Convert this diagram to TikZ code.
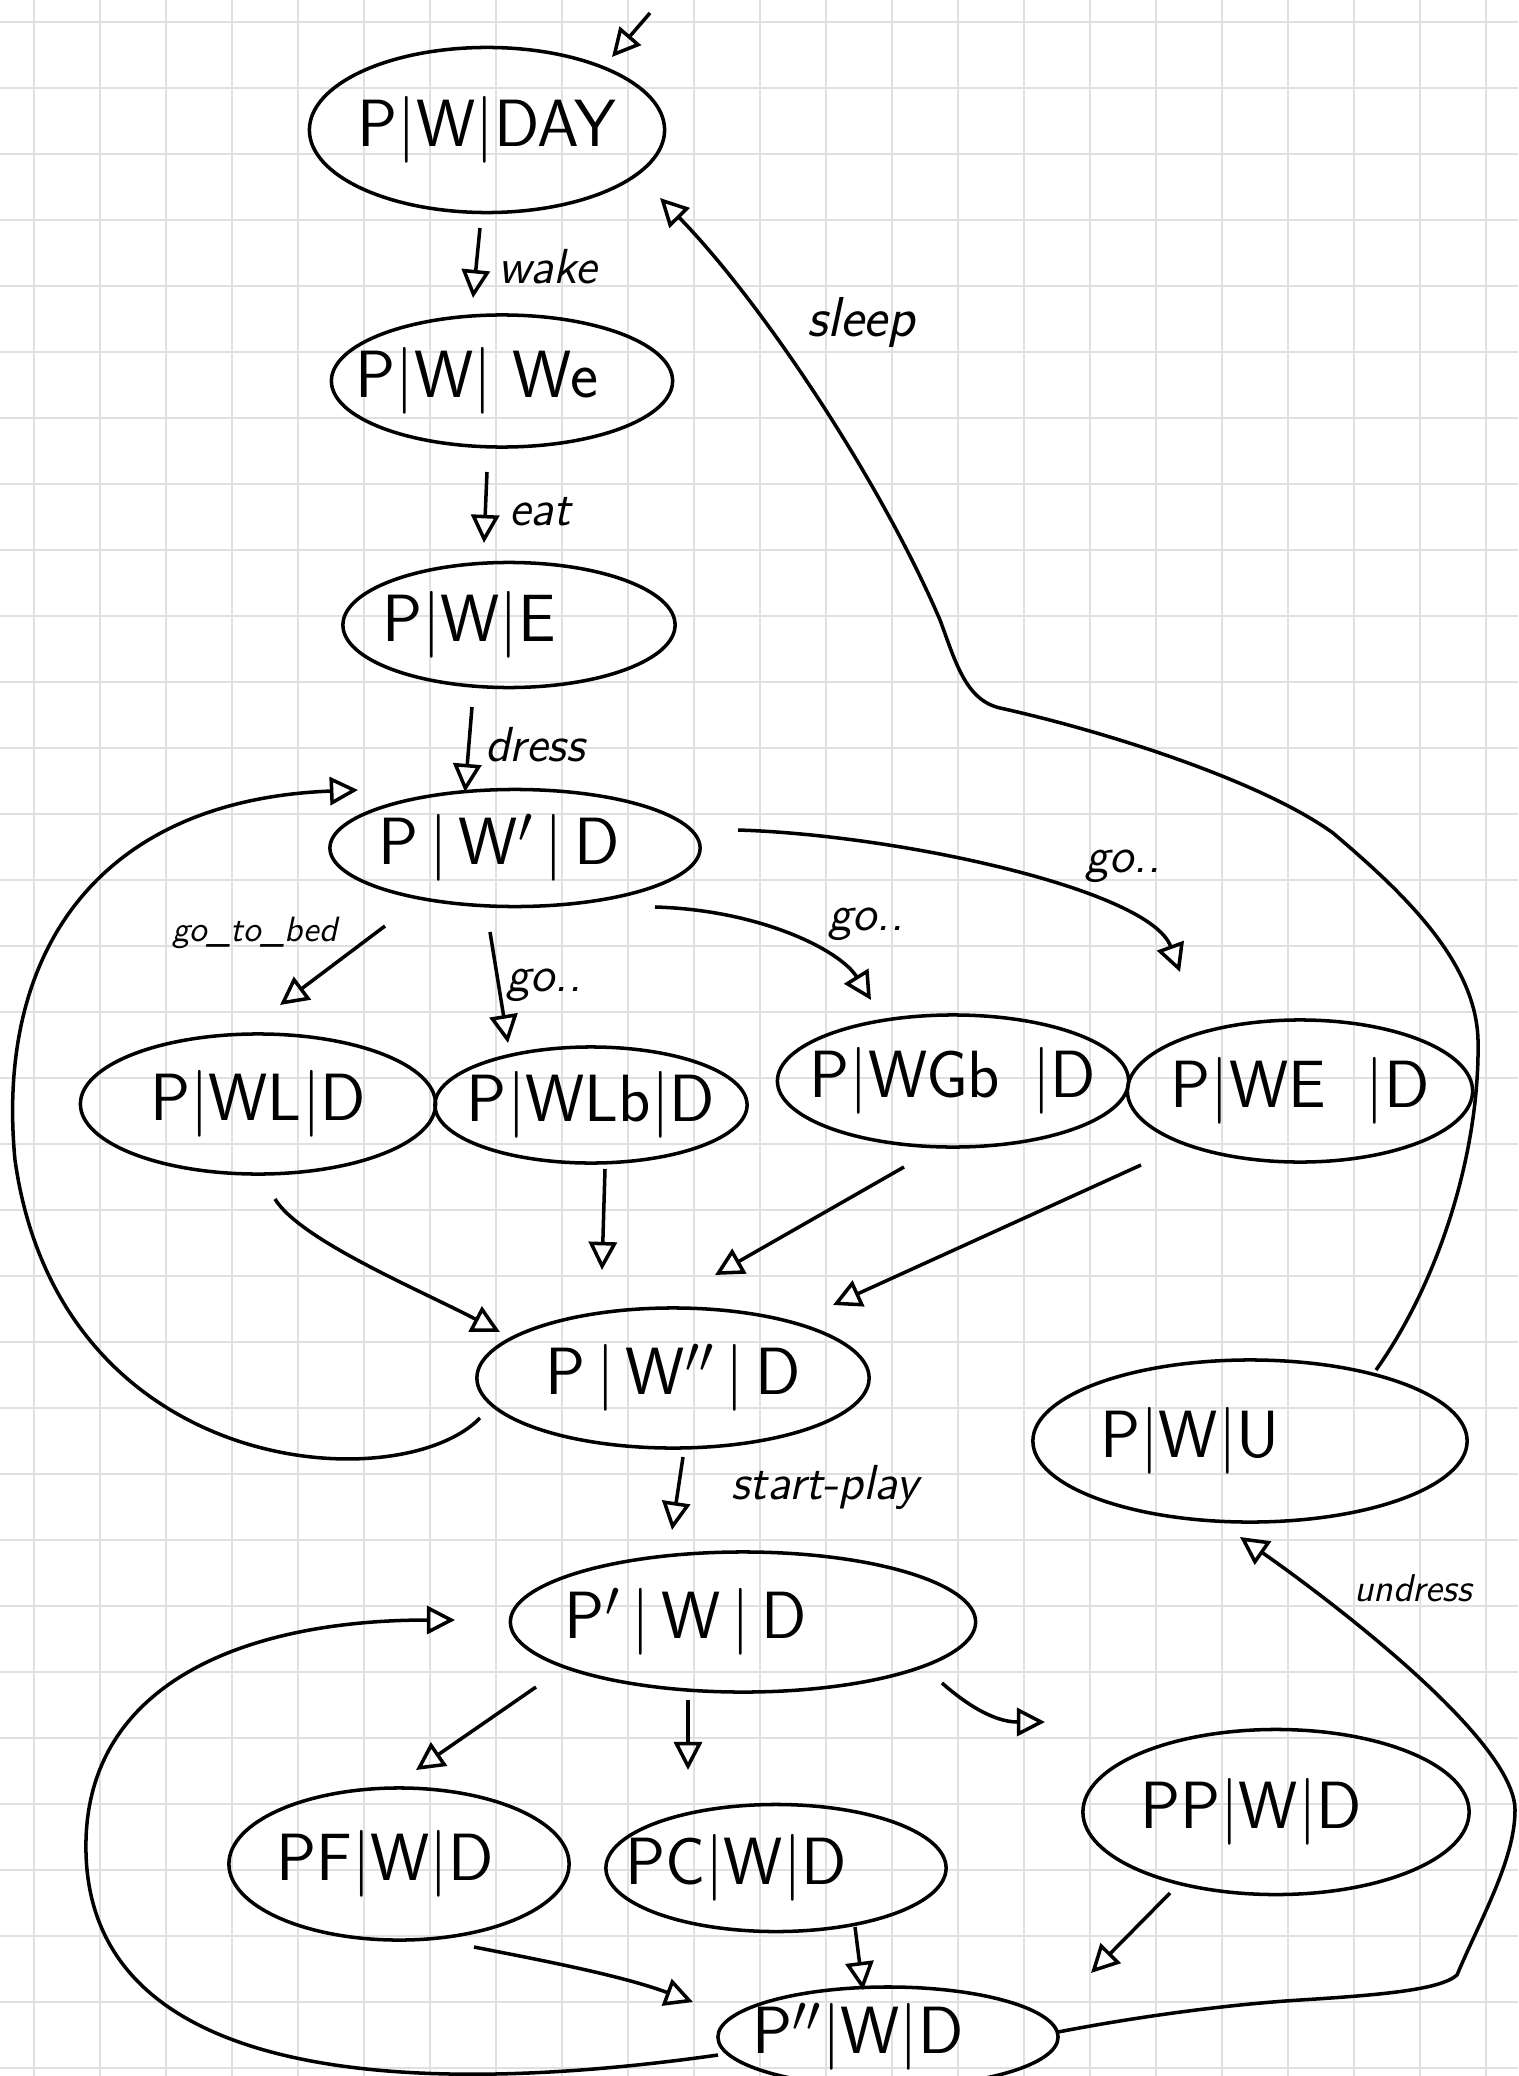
\documentclass[tikz,border=0pt]{standalone}
\usepackage{fontspec}
\usetikzlibrary{shapes.geometric, arrows.meta}
\newcommand{\sttext}[2][0pt]{\makebox[0pt]{\hspace*{#1}\hspace*{#1}#2}}

\begin{document}
\begin{tikzpicture}[
  x=0.01cm, y=-0.01cm,
  gridln/.style = {line width=0.6pt, black!12},
  stnode/.style 2 args = {draw, ellipse, line width=1pt, inner sep=0pt,
    minimum width=#1, minimum height=#2, font=\sffamily\fontsize{19}{22}\selectfont},
  flow/.style = {line width=1pt, -{Triangle[open, length=8pt, width=8pt]}},
  lbl/.style = {font=\sffamily\itshape\fontsize{14}{16}\selectfont},
  lblsm/.style = {font=\sffamily\itshape\fontsize{11}{13}\selectfont}
]
  \useasboundingbox (0,0) rectangle (1518,2076);
  \fill[white] (0,0) rectangle (1518,2076);
  % grid paper
  \foreach \gx in {34,100,...,1518} {
    \draw[gridln] (\gx,0) -- (\gx,2076);
  }
  \foreach \gy in {22,88,...,2076} {
    \draw[gridln] (0,\gy) -- (1518,\gy);
  }

  % states
  \node[stnode={3.55cm}{1.65cm}] (day) at (487,130) {\sttext{P|W|DAY}};
  \node[stnode={3.41cm}{1.32cm}] (we)  at (502,381) {\sttext[-0.25cm]{P|W| We}};
  \node[stnode={3.32cm}{1.25cm}] (eat) at (509,625) {\sttext[-0.4cm]{P|W|E}};
  \node[stnode={3.70cm}{1.17cm}] (dr)  at (515,848) {\sttext[-0.16cm]{P\,|\,W$'$\,|\,D}};
  \node[stnode={3.55cm}{1.40cm}] (wl)  at (258,1104) {\sttext{P|WL|D}};
  \node[stnode={3.12cm}{1.16cm}] (wlb) at (591,1105) {\sttext{P|WLb|D}};
  \node[stnode={3.51cm}{1.32cm}] (wgb) at (953,1081) {\sttext{P|WGb \,|D}};
  \node[stnode={3.45cm}{1.42cm}] (wed) at (1300,1091) {\sttext{P|WE \;|D}};
  \node[stnode={3.92cm}{1.40cm}] (wdd) at (673,1378) {\sttext{P\,|\,W$''$\,|\,D}};
  \node[stnode={4.34cm}{1.62cm}] (wu)  at (1250,1441) {\sttext[-0.6cm]{P|W|U}};
  \node[stnode={4.65cm}{1.40cm}] (pd)  at (743,1622) {\sttext[-0.57cm]{P$'$\,|\,W\,|\,D}};
  \node[stnode={3.40cm}{1.52cm}] (pf)  at (399,1864) {\sttext[-0.14cm]{PF|W|D}};
  \node[stnode={3.40cm}{1.27cm}] (pc)  at (776,1868) {\sttext[-0.4cm]{PC|W|D}};
  \node[stnode={3.86cm}{1.65cm}] (pp)  at (1276,1812) {\sttext[-0.25cm]{PP|W|D}};
  \node[stnode={3.40cm}{1.00cm}] (pdd) at (888,2037) {\sttext[-0.3cm]{P$''$|W|D}};

  % start
  \coordinate (init) at (650,13);
  \draw[flow] (init) -- ([shift={(125,-73)}]day.center);

  % morning chain
  \draw[flow] ([shift={(-7,98)}]day.center) -- ([shift={(-29,-83)}]we.center);
  \draw[flow] ([shift={(-15,91)}]we.center) -- ([shift={(-25,-82)}]eat.center);
  \draw[flow] ([shift={(-37,82)}]eat.center) -- ([shift={(-50,-56)}]dr.center);
  \node[lbl] (lwake) at (548,267) {wake};
  \node[lbl] (leat) at (540,512) {eat};
  \node[lbl] (ldress) at (535,745) {dress};

  % leaving the house
  \draw[flow] ([shift={(-130,78)}]dr.center) -- ([shift={(22,-99)}]wl.center);
  \draw[flow] ([shift={(-25,84)}]dr.center) -- ([shift={(-83,-62)}]wlb.center);
  \draw[flow] ([shift={(140,59)}]dr.center) .. controls (760,910) and (840,950) .. ([shift={(-82,-81)}]wgb.center);
  \draw[flow] ([shift={(223,-18)}]dr.center) .. controls (900,835) and (1150,890) .. ([shift={(-120,-119)}]wed.center);
  \node[lblsm, font=\sffamily\itshape\fontsize{10}{12}\selectfont] (lbed) at (255,933) {go\_to\_bed};
  \node[lbl] (lgoa) at (544,985) {go..};
  \node[lbl] (lgob) at (866,924) {go..};
  \node[lbl] (lgoc) at (1123,866) {go..};

  % back together
  \draw[flow] ([shift={(17,95)}]wl.center) .. controls (300,1240) and (420,1290) .. ([shift={(-173,-46)}]wdd.center);
  \draw[flow] ([shift={(14,64)}]wlb.center) -- ([shift={(-71,-108)}]wdd.center);
  \draw[flow] ([shift={(-49,86)}]wgb.center) -- ([shift={(42,-103)}]wdd.center);
  \draw[flow] ([shift={(-159,74)}]wed.center) -- ([shift={(160,-73)}]wdd.center);
  \draw[flow] ([shift={(-193,40)}]wdd.center) .. controls (400,1500) and (60,1480) .. (15,1160)
    .. controls (-5,950) and (100,800) .. ([shift={(-157,-58)}]dr.center);

  % play
  \draw[flow] ([shift={(10,79)}]wdd.center) -- ([shift={(-71,-92)}]pd.center);
  \node[lbl] (lplay) at (825,1487) {start-play};
  \draw[flow] ([shift={(-207,65)}]pd.center) -- ([shift={(17,-94)}]pf.center);
  \draw[flow] ([shift={(-55,78)}]pd.center) -- ([shift={(-88,-98)}]pc.center);
  \draw[flow] ([shift={(199,61)}]pd.center) .. controls (975,1712) and (1000,1722) .. ([shift={(-231,-90)}]pp.center);
  \draw[flow] ([shift={(75,83)}]pf.center) .. controls (540,1960) and (620,1975) .. ([shift={(-195,-35)}]pdd.center);
  \draw[flow] ([shift={(79,59)}]pc.center) -- ([shift={(-25,-47)}]pdd.center);
  \draw[flow] ([shift={(-106,81)}]pp.center) -- ([shift={(203,-64)}]pdd.center);
  \draw[flow] ([shift={(-170,18)}]pdd.center) .. controls (400,2100) and (80,2080) .. (86,1840)
    .. controls (90,1680) and (250,1620) .. ([shift={(-288,-2)}]pd.center);

  % evening
  \draw[flow] ([shift={(170,-5)}]pdd.center) .. controls (1130,2018) and (1220,2005) .. (1300,2000)
    .. controls (1380,1995) and (1440,1990) .. (1457,1975)
    .. controls (1480,1920) and (1515,1860) .. (1515,1810)
    .. controls (1515,1740) and (1330,1600) .. ([shift={(-10,96)}]wu.center);
  \node[lblsm] (lund) at (1413,1588) {undress};
  \draw[flow] ([shift={(126,-71)}]wu.center) .. controls (1440,1280) and (1480,1150) .. (1478,1040)
    .. controls (1476,960) and (1400,890) .. (1333,833)
    .. controls (1260,780) and (1100,730) .. (1000,708)
    .. controls (965,700) and (955,660) .. (940,620)
    .. controls (880,480) and (760,300) .. ([shift={(173,68)}]day.center);
  \node[lbl, font=\sffamily\itshape\fontsize{16}{18}\selectfont] (lsleep) at (861,322) {sleep};
\end{tikzpicture}
\end{document}
